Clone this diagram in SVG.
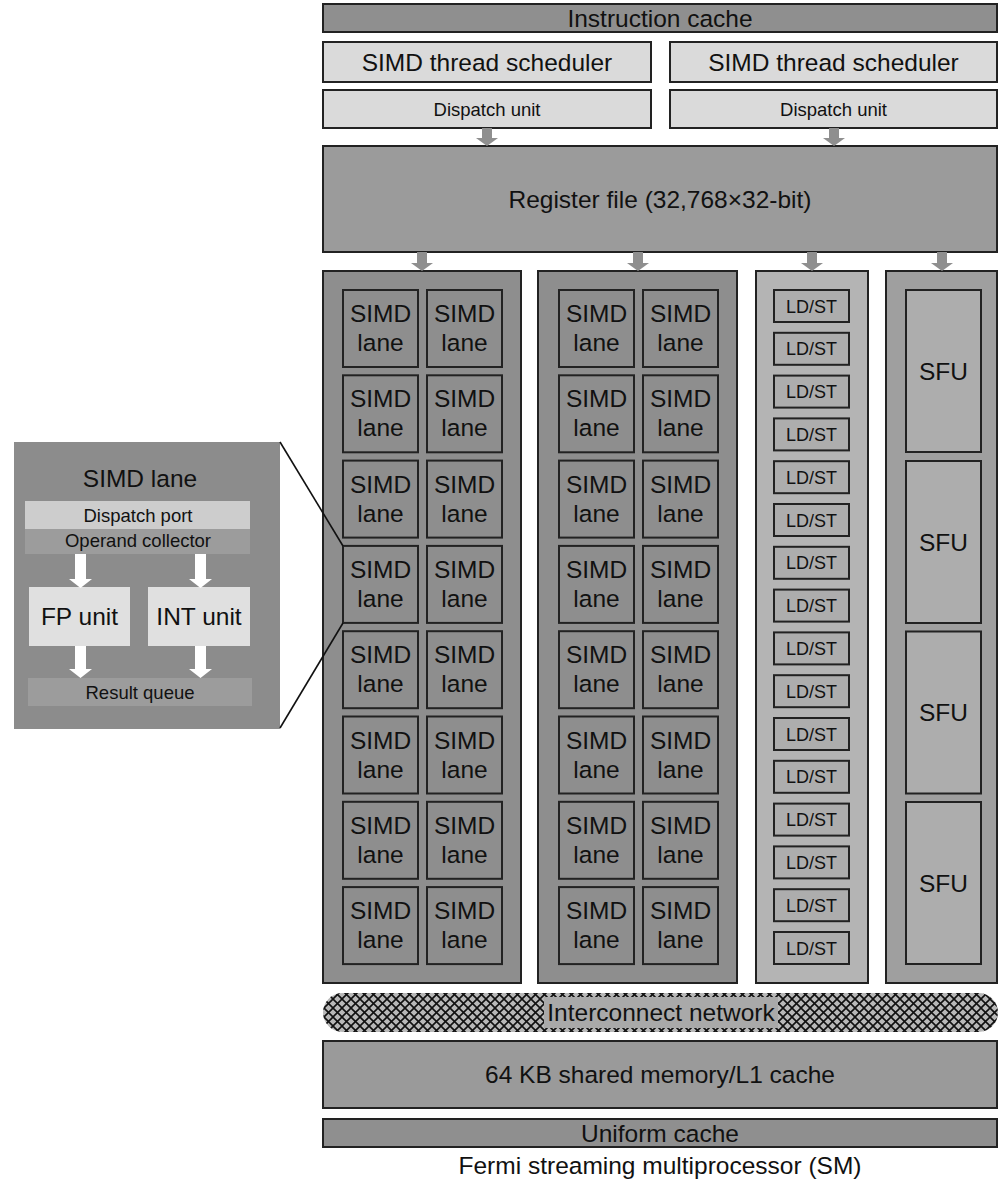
<svg xmlns="http://www.w3.org/2000/svg" width="1000" height="1181" viewBox="0 0 1000 1181">
<defs>
<style>
text{font-family:"Liberation Sans",Arial,sans-serif;fill:#111;text-anchor:middle}
.b{stroke:#222;stroke-width:2}
.big{font-size:24.5px}
.sm{font-size:18.5px}
.ls{font-size:18px}
.ga{fill:#8f8f8f}
.wa{fill:#ffffff}
.lane{fill:#8e8e8e;stroke:#222;stroke-width:2}
.ldst{fill:#adadad;stroke:#222;stroke-width:2}
.sfu{fill:#adadad;stroke:#222;stroke-width:2}
.conn{stroke:#111;stroke-width:1.6;fill:none}
</style>
<pattern id="hatch" width="9" height="9" patternUnits="userSpaceOnUse">
<rect width="9" height="9" fill="#b8b8b8"/>
<path d="M-1,-1 L10,10 M10,-1 L-1,10" stroke="#111" stroke-width="1.6"/>
</pattern>
<g id="lanecell">
<rect class="lane" x="0" y="0" width="75" height="77"/>
<text class="big" x="37.5" y="32">SIMD</text>
<text class="big" x="37.5" y="61">lane</text>
</g>
<g id="ldcell">
<rect class="ldst" x="0" y="0" width="75" height="32"/>
<text class="ls" x="37.5" y="22.5">LD/ST</text>
</g>
</defs>
<rect width="1000" height="1181" fill="#ffffff"/>

<g id="instruction-cache">
<rect class="b" x="323" y="4" width="674" height="28" fill="#8f8f8f"/>
<text class="big" x="660" y="26.5">Instruction cache</text>
</g>
<g id="scheduler-left">
<rect class="b" x="323" y="42" width="328" height="40" fill="#dadada"/>
<text class="big" x="487" y="70.5">SIMD thread scheduler</text>
</g>
<g id="scheduler-right">
<rect class="b" x="670" y="42" width="327" height="40" fill="#dadada"/>
<text class="big" x="833.5" y="70.5">SIMD thread scheduler</text>
</g>
<g id="dispatch-left">
<rect class="b" x="323" y="90" width="328" height="38" fill="#dadada"/>
<text class="sm" x="487" y="115.5">Dispatch unit</text>
</g>
<g id="dispatch-right">
<rect class="b" x="670" y="90" width="327" height="38" fill="#dadada"/>
<text class="sm" x="833.5" y="115.5">Dispatch unit</text>
</g>
<g id="register-file">
<rect class="b" x="323" y="146" width="674" height="106" fill="#9b9b9b"/>
<text class="big" x="660" y="207.5">Register file (32,768×32-bit)</text>
</g>

<g id="simd-column-1">
<rect class="b" x="323" y="271" width="198" height="712" fill="#8e8e8e"/>
<use href="#lanecell" x="343" y="290"/><use href="#lanecell" x="427" y="290"/>
<use href="#lanecell" x="343" y="375.3"/><use href="#lanecell" x="427" y="375.3"/>
<use href="#lanecell" x="343" y="460.6"/><use href="#lanecell" x="427" y="460.6"/>
<use href="#lanecell" x="343" y="545.9"/><use href="#lanecell" x="427" y="545.9"/>
<use href="#lanecell" x="343" y="631.2"/><use href="#lanecell" x="427" y="631.2"/>
<use href="#lanecell" x="343" y="716.5"/><use href="#lanecell" x="427" y="716.5"/>
<use href="#lanecell" x="343" y="801.8"/><use href="#lanecell" x="427" y="801.8"/>
<use href="#lanecell" x="343" y="887.1"/><use href="#lanecell" x="427" y="887.1"/>
</g>
<g id="simd-column-2">
<rect class="b" x="538" y="271" width="199" height="712" fill="#8e8e8e"/>
<use href="#lanecell" x="559" y="290"/><use href="#lanecell" x="643" y="290"/>
<use href="#lanecell" x="559" y="375.3"/><use href="#lanecell" x="643" y="375.3"/>
<use href="#lanecell" x="559" y="460.6"/><use href="#lanecell" x="643" y="460.6"/>
<use href="#lanecell" x="559" y="545.9"/><use href="#lanecell" x="643" y="545.9"/>
<use href="#lanecell" x="559" y="631.2"/><use href="#lanecell" x="643" y="631.2"/>
<use href="#lanecell" x="559" y="716.5"/><use href="#lanecell" x="643" y="716.5"/>
<use href="#lanecell" x="559" y="801.8"/><use href="#lanecell" x="643" y="801.8"/>
<use href="#lanecell" x="559" y="887.1"/><use href="#lanecell" x="643" y="887.1"/>
</g>
<g id="ldst-column">
<rect class="b" x="756" y="271" width="112" height="712" fill="#b4b4b4"/>
<use href="#ldcell" x="774" y="290"/>
<use href="#ldcell" x="774" y="332.8"/>
<use href="#ldcell" x="774" y="375.6"/>
<use href="#ldcell" x="774" y="418.4"/>
<use href="#ldcell" x="774" y="461.2"/>
<use href="#ldcell" x="774" y="504"/>
<use href="#ldcell" x="774" y="546.8"/>
<use href="#ldcell" x="774" y="589.6"/>
<use href="#ldcell" x="774" y="632.4"/>
<use href="#ldcell" x="774" y="675.2"/>
<use href="#ldcell" x="774" y="718"/>
<use href="#ldcell" x="774" y="760.8"/>
<use href="#ldcell" x="774" y="803.6"/>
<use href="#ldcell" x="774" y="846.4"/>
<use href="#ldcell" x="774" y="889.2"/>
<use href="#ldcell" x="774" y="932"/>
</g>
<g id="sfu-column">
<rect class="b" x="886" y="271" width="111" height="712" fill="#9f9f9f"/>
<rect class="sfu" x="906" y="290" width="75" height="162"/>
<text class="big" x="943.5" y="379.5">SFU</text>
<rect class="sfu" x="906" y="461" width="75" height="162"/>
<text class="big" x="943.5" y="550.5">SFU</text>
<rect class="sfu" x="906" y="631.5" width="75" height="162"/>
<text class="big" x="943.5" y="721">SFU</text>
<rect class="sfu" x="906" y="802" width="75" height="162"/>
<text class="big" x="943.5" y="891.5">SFU</text>
</g>

<g id="interconnect-network">
<rect x="323" y="993" width="675" height="39" rx="19.5" fill="url(#hatch)"/>
<rect x="544" y="997" width="234" height="31" fill="#a9a9a9"/>
<text class="big" x="661" y="1020.5">Interconnect network</text>
</g>
<g id="shared-memory">
<rect class="b" x="323" y="1041" width="674" height="67" fill="#9a9a9a"/>
<text class="big" x="660" y="1083">64 KB shared memory/L1 cache</text>
</g>
<g id="uniform-cache">
<rect class="b" x="323" y="1119" width="674" height="28" fill="#8f8f8f"/>
<text class="big" x="660" y="1141.5">Uniform cache</text>
</g>
<text id="caption" class="big" x="660" y="1174">Fermi streaming multiprocessor (SM)</text>

<g id="simd-lane-detail">
<rect x="14" y="442" width="266" height="287" fill="#8c8c8c"/>
<text class="big" x="140" y="487">SIMD lane</text>
<rect x="25" y="501" width="225" height="28" fill="#cdcdcd"/>
<text class="sm" x="138" y="522">Dispatch port</text>
<rect x="25" y="529" width="225" height="25" fill="#9c9c9c"/>
<text class="sm" x="138" y="547">Operand collector</text>
<g id="fp-unit">
<rect x="29" y="587" width="101" height="59" fill="#e0e0e0"/>
<text class="big" x="79.5" y="625">FP unit</text>
</g>
<g id="int-unit">
<rect x="148" y="587" width="102" height="59" fill="#e0e0e0"/>
<text class="big" x="199" y="625">INT unit</text>
</g>
<rect x="28" y="678" width="224" height="28" fill="#9c9c9c"/>
<text class="sm" x="140" y="699">Result queue</text>
<path class="wa" d="M75,554 h11 v25 h6 l-11.5,9 l-11.5,-9 h6 z"/>
<path class="wa" d="M195,554 h11 v25 h6 l-11.5,9 l-11.5,-9 h6 z"/>
<path class="wa" d="M75,646 h11 v23 h6 l-11.5,9 l-11.5,-9 h6 z"/>
<path class="wa" d="M195,646 h11 v23 h6 l-11.5,9 l-11.5,-9 h6 z"/>
</g>

<g id="connectors">
<path class="ga" d="M482,128 h10 v10 h6 l-11,8 l-11,-8 h6 z"/>
<path class="ga" d="M829,128 h10 v10 h6 l-11,8 l-11,-8 h6 z"/>
<path class="ga" d="M417,252 h10 v11 h6 l-11,8 l-11,-8 h6 z"/>
<path class="ga" d="M633,252 h10 v11 h6 l-11,8 l-11,-8 h6 z"/>
<path class="ga" d="M807,252 h10 v11 h6 l-11,8 l-11,-8 h6 z"/>
<path class="ga" d="M937,252 h10 v11 h6 l-11,8 l-11,-8 h6 z"/>
<line class="conn" x1="280" y1="442" x2="343" y2="546"/>
<line class="conn" x1="280" y1="728" x2="343" y2="623"/>
</g>
</svg>
